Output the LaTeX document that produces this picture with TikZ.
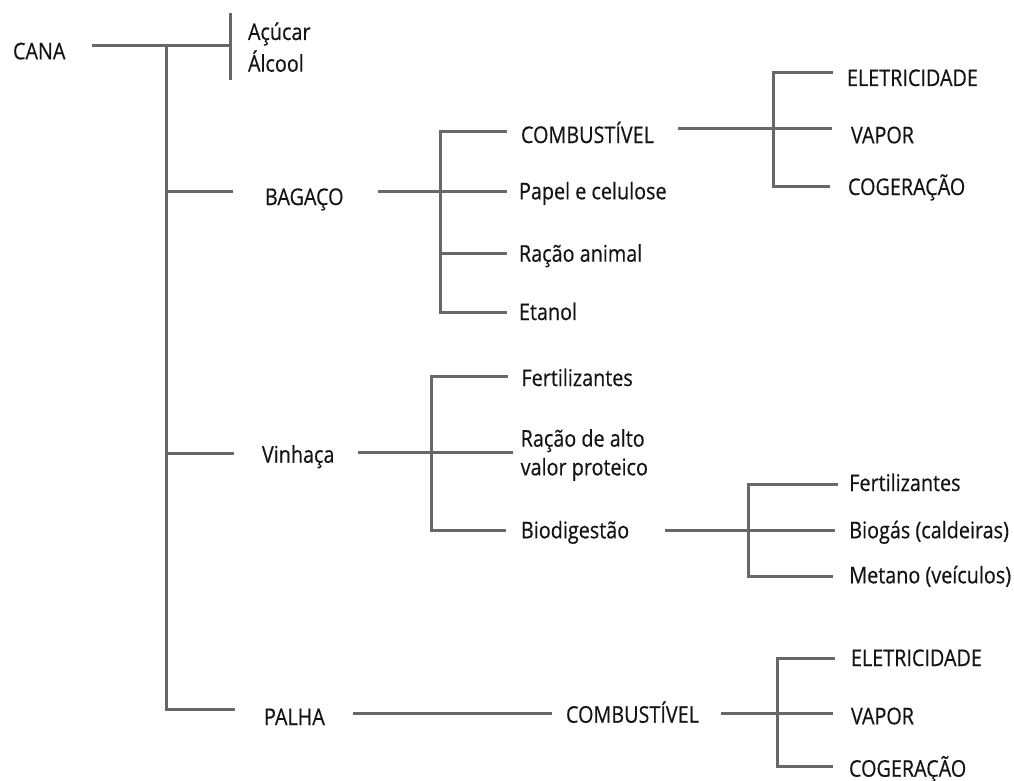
\documentclass[tikz,border=0pt]{standalone}
\usepackage{fontspec}
\setmainfont{Open Sans}[FakeStretch=0.86,FakeBold=0.4]
\definecolor{ln}{HTML}{686868}
\definecolor{tx}{HTML}{141414}
\begin{document}
\begin{tikzpicture}[x=1pt,y=-1pt,
  lbl/.style={anchor=base west, inner sep=0pt, outer sep=0pt, text=tx, font=\fontsize{23}{28.7}\selectfont},
  wire/.style={draw=ln, line width=3pt, line join=miter}]
\useasboundingbox[fill=white] (0,0) rectangle (1014,781);
% labels
\node[lbl] (cana) at (13,59.3) {CANA};
\node[lbl] (acucar) at (248,40) {Açúcar};
\node[lbl] (alcool) at (248,71.7) {Álcool};
\node[lbl] (bagaco) at (265,205) {BAGAÇO};
\node[lbl] (vinhaca) at (262,462.7) {Vinhaça};
\node[lbl] (palha) at (264,725) {PALHA};
\node[lbl] (bcomb) at (521,143) {COMBUSTÍVEL};
\node[lbl] (papel) at (519,199.3) {Papel e celulose};
\node[lbl] (racao) at (519,261.7) {Ração animal};
\node[lbl] (etanol) at (519,320) {Etanol};
\node[lbl] (belet) at (847,86) {ELETRICIDADE};
\node[lbl] (bvapor) at (851,143.3) {VAPOR};
\node[lbl] (bcoger) at (848,195) {COGERAÇÃO};
\node[lbl] (fert) at (521.5,386) {Fertilizantes};
\node[lbl,anchor=west,align=left] (racaoalto) at (520.7,455) {Ração de alto\\valor proteico};
\node[lbl] (biodig) at (521,538.3) {Biodigestão};
\node[lbl] (fert2) at (849.3,491) {Fertilizantes};
\node[lbl] (biogas) at (849.3,538.3) {Biogás (caldeiras)};
\node[lbl] (metano) at (849.3,583.3) {Metano (veículos)};
\node[lbl] (pcomb) at (566,722.7) {COMBUSTÍVEL};
\node[lbl] (pelet) at (851,666) {ELETRICIDADE};
\node[lbl] (pvapor) at (851,724.3) {VAPOR};
\node[lbl] (pcoger) at (849,776.7) {COGERAÇÃO};
% root
\coordinate (canaout) at (92,46);
\coordinate (barmid) at (230,46);
\coordinate (bartop) at (230,13);
\coordinate (barbot) at (230,80);
\coordinate (trtop) at (166,46);
\coordinate (trbag) at (166,191);
\coordinate (trvin) at (166,453);
\coordinate (trpal) at (166,709);
\coordinate (bagin) at (233,191);
\coordinate (vinin) at (234,453);
\coordinate (palin) at (235,709);
\draw[wire] (canaout) -- (barmid);
\draw[wire] (bartop) -- (barbot);
\draw[wire] (trtop) -- (trpal) -- (palin);
\draw[wire] (trbag) -- (bagin);
\draw[wire] (trvin) -- (vinin);
% bagaco
\coordinate (bagout) at (378,191.7);
\coordinate (bj1) at (440,131.7);
\coordinate (bj2) at (440,191.7);
\coordinate (bj3) at (440,253);
\coordinate (bj4) at (440,312.7);
\coordinate (bcombin) at (507,131.7);
\coordinate (papelin) at (507,191.7);
\coordinate (racaoin) at (507,253);
\coordinate (etanolin) at (507,312.7);
\draw[wire] (bagout) -- (bj2) -- (papelin);
\draw[wire] (bcombin) -- (bj1) -- (bj4) -- (etanolin);
\draw[wire] (bj3) -- (racaoin);
% combustivel (bagaco)
\coordinate (bcombout) at (678,129);
\coordinate (bk1) at (773,72.7);
\coordinate (bk2) at (773,129);
\coordinate (bk3) at (773,186);
\coordinate (beletin) at (833,72.7);
\coordinate (bvaporin) at (832,129);
\coordinate (bcogerin) at (830,186);
\draw[wire] (bcombout) -- (bk2) -- (bvaporin);
\draw[wire] (beletin) -- (bk1) -- (bk3) -- (bcogerin);
% vinhaca
\coordinate (vinout) at (358,452.7);
\coordinate (vj1) at (431,376);
\coordinate (vj2) at (431,452.7);
\coordinate (vj3) at (431,530.7);
\coordinate (fertin) at (508,376);
\coordinate (racaoaltoin) at (513,452.7);
\coordinate (biodigin) at (506,530.7);
\draw[wire] (vinout) -- (vj2) -- (racaoaltoin);
\draw[wire] (fertin) -- (vj1) -- (vj3) -- (biodigin);
% biodigestao
\coordinate (biodigout) at (665,530);
\coordinate (dj1) at (748,484);
\coordinate (dj2) at (748,530);
\coordinate (dj3) at (748,576);
\coordinate (fert2in) at (838,484);
\coordinate (biogasin) at (835,530);
\coordinate (metanoin) at (833,576);
\draw[wire] (biodigout) -- (dj2) -- (biogasin);
\draw[wire] (fert2in) -- (dj1) -- (dj3) -- (metanoin);
% palha
\coordinate (palout) at (353,713);
\coordinate (pcombin) at (552,713);
\draw[wire] (palout) -- (pcombin);
\coordinate (pcombout) at (721,713);
\coordinate (pk1) at (777,658);
\coordinate (pk2) at (777,713);
\coordinate (pk3) at (777,766);
\coordinate (peletin) at (835,658);
\coordinate (pvaporin) at (833,713);
\coordinate (pcogerin) at (833,766);
\draw[wire] (pcombout) -- (pk2) -- (pvaporin);
\draw[wire] (peletin) -- (pk1) -- (pk3) -- (pcogerin);
\end{tikzpicture}
\end{document}
